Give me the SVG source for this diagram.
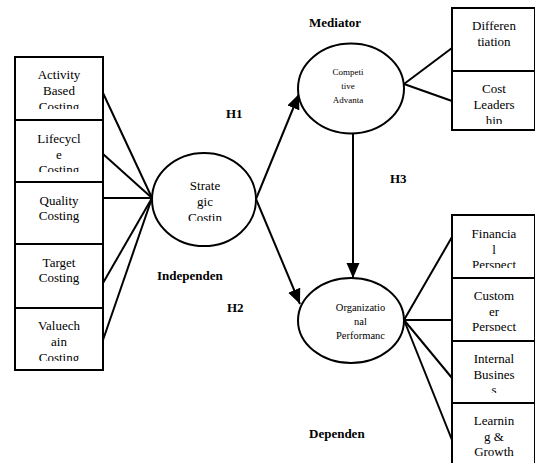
<svg xmlns="http://www.w3.org/2000/svg" width="535" height="463" viewBox="0 0 535 463">
<style>
.box{fill:#fff;stroke:#000;stroke-width:2}
.ell{fill:#fff;stroke:#000;stroke-width:2}
.t{font-family:"Liberation Serif","Times New Roman",serif;font-size:13px;fill:#000;text-anchor:middle}
.s{font-family:"Liberation Serif","Times New Roman",serif;font-size:10.5px;fill:#000;text-anchor:middle}
.s9{font-family:"Liberation Serif","Times New Roman",serif;font-size:9px;fill:#000;text-anchor:middle}
.b{font-family:"Liberation Serif","Times New Roman",serif;font-size:13px;font-weight:bold;fill:#000}
.c{stroke:#000;stroke-width:2;fill:none}
</style>
<defs>
<marker id="ah" markerUnits="userSpaceOnUse" markerWidth="16" markerHeight="14" refX="15" refY="6.5" orient="auto" viewBox="0 0 16 13">
<path d="M0,0 L15,6.5 L0,13 Z" fill="#000"/>
</marker>
<clipPath id="c1" clipPathUnits="userSpaceOnUse"><rect x="15" y="57" width="88" height="52"/></clipPath>
<clipPath id="c2" clipPathUnits="userSpaceOnUse"><rect x="15" y="120" width="88" height="52"/></clipPath>
<clipPath id="c5" clipPathUnits="userSpaceOnUse"><rect x="15" y="308" width="88" height="53"/></clipPath>
<clipPath id="cs" clipPathUnits="userSpaceOnUse"><rect x="152" y="150" width="104" height="71"/></clipPath>
<clipPath id="r2" clipPathUnits="userSpaceOnUse"><rect x="452" y="71" width="83" height="53"/></clipPath>
<clipPath id="r3" clipPathUnits="userSpaceOnUse"><rect x="452" y="215" width="83" height="53"/></clipPath>
<clipPath id="r4" clipPathUnits="userSpaceOnUse"><rect x="452" y="278" width="83" height="53"/></clipPath>
<clipPath id="r5" clipPathUnits="userSpaceOnUse"><rect x="452" y="341" width="83" height="52"/></clipPath>
<clipPath id="r6" clipPathUnits="userSpaceOnUse"><rect x="452" y="403" width="83" height="55"/></clipPath>
</defs>
<rect width="535" height="463" fill="#fff"/>

<g id="connectors">
<line class="c" x1="103" y1="93" x2="152" y2="198"/>
<line class="c" x1="103" y1="154" x2="152" y2="198"/>
<line class="c" x1="103" y1="198" x2="152" y2="198"/>
<line class="c" x1="103" y1="283" x2="152" y2="198"/>
<line class="c" x1="103" y1="340" x2="152" y2="198"/>
<line class="c" x1="404" y1="84" x2="452" y2="48"/>
<line class="c" x1="404" y1="84" x2="452" y2="101"/>
<line class="c" x1="404" y1="320" x2="452" y2="237"/>
<line class="c" x1="404" y1="320" x2="452" y2="320"/>
<line class="c" x1="404" y1="320" x2="452" y2="378"/>
<line class="c" x1="404" y1="320" x2="452" y2="440"/>
<line class="c" x1="256" y1="199" x2="299" y2="94" marker-end="url(#ah)"/>
<line class="c" x1="256" y1="199" x2="300" y2="304" marker-end="url(#ah)"/>
<line class="c" x1="353" y1="133" x2="353" y2="278" marker-end="url(#ah)"/>
</g>

<g id="activity">
<rect class="box" x="15" y="57" width="88" height="63"/>
<g clip-path="url(#c1)"><text class="t" x="59" y="79">Activity</text><text class="t" x="59" y="95">Based</text><text class="t" x="59" y="110.5">Costing</text></g>
</g>
<g id="lifecycle">
<rect class="box" x="15" y="120" width="88" height="62"/>
<g clip-path="url(#c2)"><text class="t" x="59" y="143">Lifecycl</text><text class="t" x="59" y="158.5">e</text><text class="t" x="59" y="174">Costing</text></g>
</g>
<g id="quality">
<rect class="box" x="15" y="182" width="88" height="62"/>
<text class="t" x="59" y="205">Quality</text><text class="t" x="59" y="220">Costing</text>
</g>
<g id="target">
<rect class="box" x="15" y="244" width="88" height="64"/>
<text class="t" x="59" y="267">Target</text><text class="t" x="59" y="282">Costing</text>
</g>
<g id="valuechain">
<rect class="box" x="15" y="308" width="88" height="62"/>
<g clip-path="url(#c5)"><text class="t" x="59" y="330">Valuech</text><text class="t" x="59" y="346">ain</text><text class="t" x="59" y="361.5">Costing</text></g>
</g>

<g id="strategic">
<ellipse class="ell" cx="204" cy="199.5" rx="52" ry="46.5"/>
<g clip-path="url(#cs)"><text class="t" x="205" y="190">Strate</text><text class="t" x="205" y="206">gic</text><text class="t" x="205" y="222">Costin</text></g>
</g>

<g id="competitive">
<ellipse class="ell" cx="351" cy="88.5" rx="53" ry="45"/>
<text class="s9" x="348" y="75">Competi</text><text class="s9" x="348" y="88.5">tive</text><text class="s9" x="348" y="103">Advanta</text>
</g>

<g id="organizational">
<ellipse class="ell" cx="351" cy="320.5" rx="53" ry="42.5"/>
<text class="s" x="360.5" y="311">Organizatio</text><text class="s" x="360.5" y="325">nal</text><text class="s" x="360.5" y="339">Performanc</text>
</g>

<g id="differentiation">
<rect class="box" x="452" y="8" width="83" height="63"/>
<text class="t" x="494" y="30">Differen</text><text class="t" x="494" y="46">tiation</text>
</g>
<g id="costleadership">
<rect class="box" x="452" y="71" width="83" height="59"/>
<g clip-path="url(#r2)"><text class="t" x="494" y="93">Cost</text><text class="t" x="494" y="109">Leaders</text><text class="t" x="494" y="124.5">hip</text></g>
</g>
<g id="financial">
<rect class="box" x="452" y="215" width="83" height="63"/>
<g clip-path="url(#r3)"><text class="t" x="494" y="238">Financia</text><text class="t" x="494" y="253.5">l</text><text class="t" x="494" y="269">Perspect</text></g>
</g>
<g id="customer">
<rect class="box" x="452" y="278" width="83" height="63"/>
<g clip-path="url(#r4)"><text class="t" x="494" y="300">Custom</text><text class="t" x="494" y="315.5">er</text><text class="t" x="494" y="331">Perspect</text></g>
</g>
<g id="internal">
<rect class="box" x="452" y="341" width="83" height="62"/>
<g clip-path="url(#r5)"><text class="t" x="494" y="363">Internal</text><text class="t" x="494" y="378.5">Busines</text><text class="t" x="494" y="394">s</text></g>
</g>
<g id="learning">
<rect class="box" x="452" y="403" width="83" height="62"/>
<g clip-path="url(#r6)"><text class="t" x="494" y="425">Learnin</text><text class="t" x="494" y="440.5">g &amp;</text><text class="t" x="494" y="456">Growth</text></g>
</g>

<g id="labels">
<text class="b" x="309" y="27">Mediator</text>
<text class="b" x="226" y="118">H1</text>
<text class="b" x="390" y="183">H3</text>
<text class="b" x="157" y="280">Independen</text>
<text class="b" x="227" y="312">H2</text>
<text class="b" x="309" y="438">Dependen</text>
</g>
</svg>
